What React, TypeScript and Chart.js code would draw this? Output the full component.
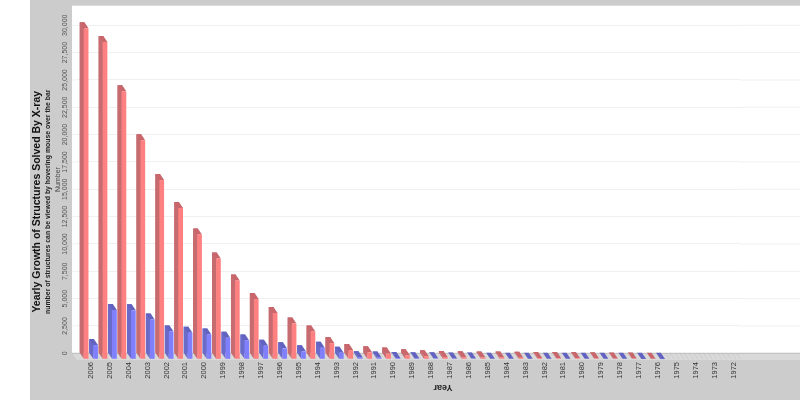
import React, { useEffect, useRef } from "react";
import { Chart, registerables } from "chart.js";

Chart.register(...registerables);

const years = ["2006","2005","2004","2003","2002","2001","2000","1999","1998","1997","1996","1995","1994","1993","1992","1991","1990","1989","1988","1987","1986","1985","1984","1983","1982","1981","1980","1979","1978","1977","1976","1975","1974","1973","1972"];
const totalStructures = [30270,29030,24510,20030,16390,13845,11420,9210,7210,5510,4236,3270,2545,1480,840,640,520,370,280,210,190,170,170,150,130,110,110,100,80,70,60,0,0,0,0];
const yearlyStructures = [1300,4510,4480,3640,2545,2420,2270,1960,1730,1240,1000,730,1060,610,190,170,120,100,90,80,70,60,60,60,50,50,50,40,40,30,20,0,0,0,0];
const yTicks = [0,2500,5000,7500,10000,12500,15000,17500,20000,22500,25000,27500,30000];

const titleText = "Yearly Growth of Structures Solved By X-ray";
const subtitleText = "number of structures can be viewed by hovering mouse over the bar";
const yTitle = "Number";
const xTitle = "Year";

const GRAY = "#cccccc";
const DX = 4;
const DY = 6;
const faces = [
  { front: "#ff8080", side: "#c66c70", top: "#c8666c" },
  { front: "#8080ff", side: "#6a6ac8", top: "#6262c0" },
];

const poly = (ctx: CanvasRenderingContext2D, pts: number[][], fill: string) => {
  ctx.beginPath();
  pts.forEach((p, i) => (i ? ctx.lineTo(p[0], p[1]) : ctx.moveTo(p[0], p[1])));
  ctx.closePath();
  ctx.fillStyle = fill;
  ctx.fill();
};

const scene = {
  id: "scene3d",
  beforeDraw(chart: any) {
    const { ctx, width, height, chartArea, scales } = chart;
    ctx.save();
    ctx.fillStyle = "#ffffff";
    ctx.fillRect(0, 0, width, height);
    ctx.fillStyle = GRAY;
    ctx.fillRect(30, 0, width - 30, height);
    ctx.fillStyle = "#ffffff";
    ctx.fillRect(72, chartArea.top, width - 72, chartArea.bottom - chartArea.top);
    ctx.strokeStyle = "#f0f0f0";
    ctx.lineWidth = 1;
    scales.y.ticks.forEach((t: any) => {
      const y = scales.y.getPixelForValue(t.value);
      ctx.beginPath();
      ctx.moveTo(72, y);
      ctx.lineTo(chartArea.left, y);
      ctx.moveTo(chartArea.right, y);
      ctx.lineTo(width, y);
      ctx.stroke();
    });
    ctx.restore();
  },
  beforeDatasetsDraw(chart: any) {
    const { ctx, width, chartArea } = chart;
    const b = chartArea.bottom;
    ctx.save();
    poly(ctx, [[72, b], [width, b], [width, b + DY + 0.7], [72 + DX + 1, b + DY + 0.7]], "#d9d9d9");
    ctx.strokeStyle = "#bdbdbd";
    ctx.lineWidth = 1;
    ctx.beginPath();
    ctx.moveTo(72, b);
    ctx.lineTo(width, b);
    ctx.stroke();
    ctx.restore();
  },
  afterDatasetsDraw(chart: any) {
    const { ctx } = chart;
    ctx.save();
    years.forEach((_, i) => {
      chart.data.datasets.forEach((ds: any, d: number) => {
        const el = chart.getDatasetMeta(d).data[i];
        const l = el.x - el.width / 2;
        const r = el.x + el.width / 2;
        const t = el.y;
        const b = el.base;
        if (ds.data[i] === 0) {
          ctx.strokeStyle = "rgba(0,0,0,0.06)";
          ctx.lineWidth = 1;
          ctx.beginPath();
          ctx.moveTo(l, b);
          ctx.lineTo(l + DX, b + DY);
          ctx.moveTo(r, b);
          ctx.lineTo(r + DX, b + DY);
          ctx.stroke();
          return;
        }
        const f = faces[d];
        poly(ctx, [[l, t], [l + DX, t + DY], [l + DX, b + DY], [l, b]], f.side);
        poly(ctx, [[l, t], [r, t], [r + DX, t + DY], [l + DX, t + DY]], f.top);
        ctx.fillStyle = f.front;
        ctx.fillRect(l + DX, t + DY, r - l, b - t);
      });
    });
    ctx.restore();
  },
  afterDraw(chart: any) {
    const { ctx } = chart;
    ctx.save();
    ctx.translate(443, 387);
    ctx.rotate(Math.PI);
    ctx.font = "bold 9px 'Liberation Sans'";
    ctx.fillStyle = "#222222";
    ctx.textAlign = "center";
    ctx.textBaseline = "middle";
    ctx.fillText(xTitle, 0, 0);
    ctx.restore();
  },
};

export default function App() {
  const ref = useRef<HTMLCanvasElement>(null);
  useEffect(() => {
    const chart = new Chart(ref.current as HTMLCanvasElement, {
      type: "bar",
      data: {
        labels: years,
        datasets: [
          { label: "Total", data: totalStructures, backgroundColor: faces[0].side, barPercentage: 0.5, categoryPercentage: 1 },
          { label: "Yearly", data: yearlyStructures, backgroundColor: faces[1].side, barPercentage: 0.5, categoryPercentage: 1 },
        ],
      },
      options: {
        responsive: false,
        animation: false,
        layout: { padding: { left: 31, right: 61, top: 3.5, bottom: 0 } },
        plugins: {
          legend: { display: false },
          tooltip: { enabled: false },
          title: {
            display: true,
            text: titleText,
            position: "left",
            color: "#111111",
            font: { family: "'Liberation Sans'", size: 10.5, weight: "bold" },
            padding: { top: 0, bottom: 0 },
          },
          subtitle: {
            display: true,
            text: subtitleText,
            position: "left",
            color: "#222222",
            font: { family: "'Liberation Sans'", size: 6.9, weight: "bold" },
            padding: { top: 0, bottom: 0 },
          },
        },
        scales: {
          x: {
            afterFit: (s: any) => { s.height = 46.7; },
            grid: { display: false },
            border: { display: false },
            ticks: {
              autoSkip: false,
              minRotation: 90,
              maxRotation: 90,
              labelOffset: 4,
              padding: 0.7,
              color: "#333333",
              font: { family: "'Liberation Sans'", size: 7.5 },
            },
          },
          y: {
            min: 0,
            max: 31790,
            afterBuildTicks: (s: any) => { s.ticks = yTicks.map((value) => ({ value })); },
            afterFit: (s: any) => { s.width = 25.5; },
            grid: { color: "#f0f0f0", drawTicks: false },
            border: { display: false },
            title: {
              display: true,
              text: yTitle,
              color: "#444444",
              padding: { top: 2, bottom: 0 },
              font: { family: "'Liberation Sans'", size: 7 },
            },
            ticks: {
              autoSkip: false,
              minRotation: 90,
              crossAlign: "center",
              padding: 1.5,
              color: "#555555",
              font: { family: "'Liberation Sans'", size: 7 },
              callback: (v: any) => Number(v).toLocaleString("en-US"),
            },
          },
        },
      },
      plugins: [scene],
    } as any);
    return () => chart.destroy();
  }, []);
  return (
    <div style={{ position: "absolute", left: 0, top: 0, width: 800, height: 400, overflow: "hidden" }}>
      <canvas ref={ref} width={800} height={400} style={{ display: "block", filter: "blur(0.35px)" }} />
    </div>
  );
}
